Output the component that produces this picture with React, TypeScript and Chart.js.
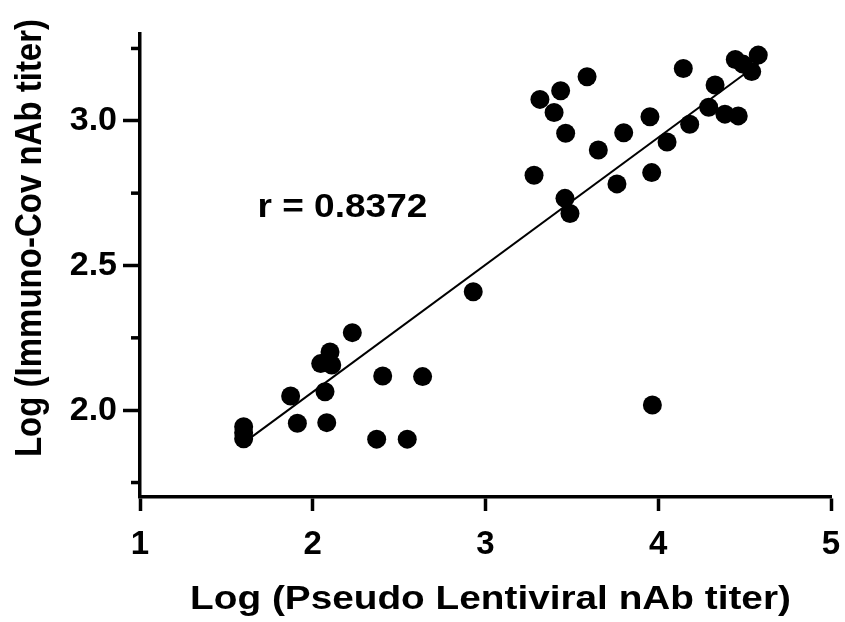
import React, { useEffect, useRef } from "react";
import { Chart, registerables } from "chart.js";

Chart.register(...registerables);

// Scatter data: log pseudo lentiviral nAb titer (x) vs log Immuno-Cov nAb titer (y)
const xValues = [
  3.315, 3.435, 3.588, 3.397, 3.464, 3.281, 3.46, 3.489, 3.653, 3.8, 3.952, 3.761,
  3.962, 4.051, 4.182, 4.145, 4.329, 4.292, 4.386, 4.463, 4.446, 4.49, 4.579, 4.541,
  1.6, 1.6, 1.6, 1.872, 1.911, 2.071, 2.081, 2.046, 2.1, 2.11, 2.229, 2.405, 2.636,
  2.37, 2.547, 2.929, 3.966,
];
const yValues = [
  3.074, 3.104, 3.152, 3.029, 2.957, 2.812, 2.732, 2.68, 2.899, 2.959, 3.014, 2.782,
  2.821, 2.927, 2.988, 3.181, 3.124, 3.047, 3.023, 3.017, 3.212, 3.196, 3.227, 3.17,
  1.943, 1.922, 1.901, 2.049, 1.955, 2.064, 1.957, 2.161, 2.201, 2.156, 2.268, 2.118,
  2.116, 1.9, 1.9, 2.409, 2.018,
];

// Regression line endpoints
const fitX = [1.6, 4.58];
const fitY = [1.887, 3.197];

const xTickValues = [1, 2, 3, 4, 5];
const yMajorTicks = [2.0, 2.5, 3.0];
const yMinorTicks = [1.75, 2.25, 2.75, 3.25];
const yTickLabels = ["2.0", "2.5", "3.0"];

const rLabel = "r = 0.8372";
const rLabelPos = [1.68, 2.7];

const xTitle = "Log (Pseudo Lentiviral nAb titer)";
const yTitle = "Log (Immuno-Cov nAb titer)";

const FONT = "'Liberation Sans', Arial, sans-serif";
const STRETCH = 1.14;

export default function App() {
  const ref = useRef<HTMLCanvasElement | null>(null);

  useEffect(() => {
    if (!ref.current) return;

    const overlay = {
      id: "overlay",
      afterDraw(chart: any) {
        const { ctx, scales, chartArea } = chart;
        const xs = scales.x;
        const ys = scales.y;
        ctx.save();
        // minor y ticks (shorter)
        ctx.strokeStyle = "#000";
        ctx.lineWidth = 3.5;
        for (const v of yMinorTicks) {
          const py = ys.getPixelForValue(v);
          ctx.beginPath();
          ctx.moveTo(chartArea.left - 9, py);
          ctx.lineTo(chartArea.left, py);
          ctx.stroke();
        }
        ctx.fillStyle = "#000";
        // r annotation
        ctx.save();
        ctx.translate(xs.getPixelForValue(rLabelPos[0]), ys.getPixelForValue(rLabelPos[1]));
        ctx.scale(STRETCH, 1);
        ctx.font = `bold 32.5px ${FONT}`;
        ctx.textAlign = "left";
        ctx.textBaseline = "middle";
        ctx.fillText(rLabel, 0, 0);
        ctx.restore();
        // x title
        ctx.save();
        ctx.translate((chartArea.left + chartArea.right) / 2 + 5, 600);
        ctx.scale(STRETCH, 1);
        ctx.font = `bold 34px ${FONT}`;
        ctx.textAlign = "center";
        ctx.textBaseline = "middle";
        ctx.fillText(xTitle, 0, 0);
        ctx.restore();
        // y title
        ctx.save();
        ctx.translate(31, 238);
        ctx.rotate(-Math.PI / 2);
        ctx.scale(1, STRETCH);
        ctx.font = `bold 33px ${FONT}`;
        ctx.textAlign = "center";
        ctx.textBaseline = "middle";
        ctx.fillText(yTitle, 0, 0);
        ctx.restore();
        ctx.restore();
      },
    };

    const chart = new Chart(ref.current, {
      type: "scatter",
      data: {
        datasets: [
          {
            type: "scatter",
            data: xValues.map((x, i) => ({ x, y: yValues[i] })),
            pointRadius: 9.5,
            pointHoverRadius: 9.5,
            backgroundColor: "#000",
            borderColor: "#000",
            borderWidth: 0,
            order: 0,
          },
          {
            type: "line",
            data: fitX.map((x, i) => ({ x, y: fitY[i] })),
            borderColor: "#000",
            borderWidth: 2,
            pointRadius: 0,
            fill: false,
            order: 1,
          } as any,
        ],
      },
      options: {
        animation: false,
        responsive: false,
        events: [],
        layout: { padding: { top: 34, right: 14, left: 0, bottom: 0 } },
        plugins: { legend: { display: false }, tooltip: { enabled: false } },
        scales: {
          x: {
            type: "linear",
            min: 1,
            max: 5,
            afterBuildTicks: (scale: any) => {
              scale.ticks = xTickValues.map((v) => ({ value: v }));
            },
            afterFit: (scale: any) => {
              scale.height = 125;
            },
            grid: {
              drawOnChartArea: false,
              drawTicks: true,
              tickLength: 14,
              tickWidth: 3.5,
              tickColor: "#000",
            },
            border: { display: true, color: "#000", width: 3.5 },
            ticks: {
              color: "#000",
              font: { family: FONT, size: 33, weight: "bold", lineHeight: 2.06 },
              padding: 0,
              maxRotation: 0,
              callback: (v: any) => String(v),
            },
          },
          y: {
            type: "linear",
            min: 1.7,
            max: 3.3,
            afterBuildTicks: (scale: any) => {
              scale.ticks = yMajorTicks.map((v) => ({ value: v }));
            },
            afterFit: (scale: any) => {
              scale.width = 140;
            },
            grid: {
              drawOnChartArea: false,
              drawTicks: true,
              tickLength: 17,
              tickWidth: 3.5,
              tickColor: "#000",
            },
            border: { display: true, color: "#000", width: 3.5 },
            ticks: {
              color: "#000",
              font: { family: FONT, size: 34, weight: "bold" },
              padding: 6,
              callback: (v: any) => {
                const i = yMajorTicks.indexOf(Number(v));
                return i >= 0 ? yTickLabels[i] : "";
              },
            },
          },
        },
      },
      plugins: [overlay],
    });

    return () => chart.destroy();
  }, []);

  return (
    <div style={{ position: "fixed", left: 0, top: 0, width: 845, height: 622, background: "#fff" }}>
      <canvas ref={ref} width={845} height={622} />
    </div>
  );
}
